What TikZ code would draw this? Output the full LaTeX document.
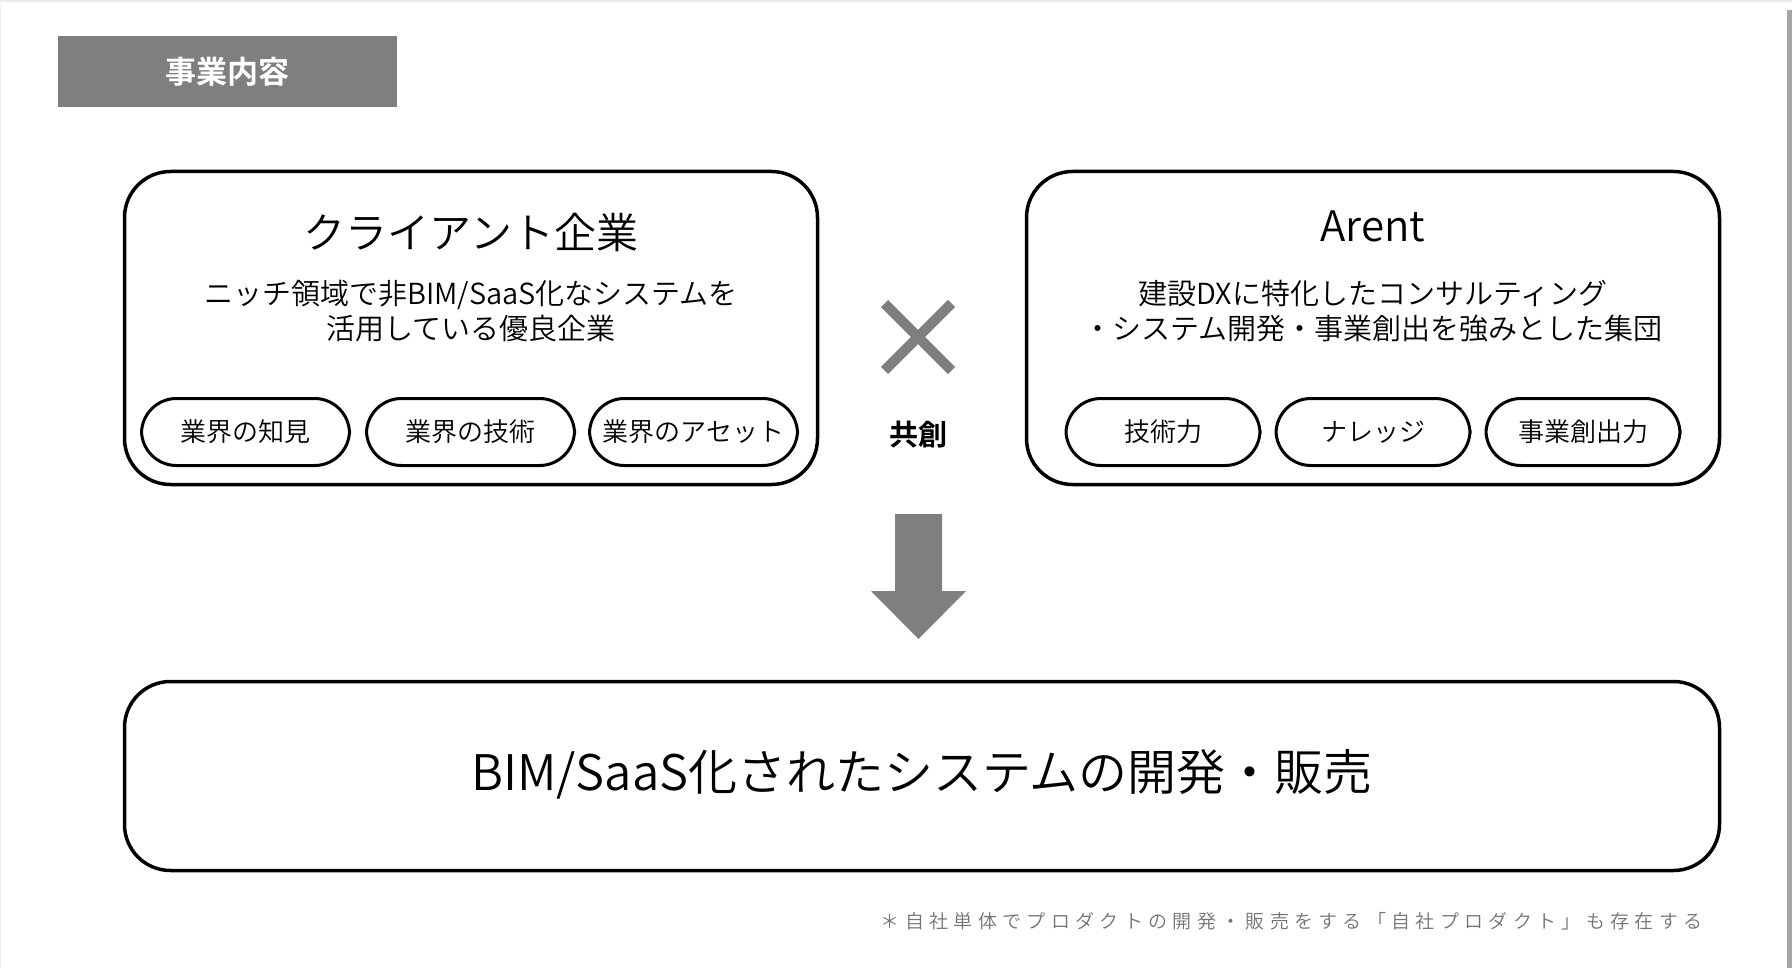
\documentclass[tikz,border=0pt]{standalone}
\usepackage{fontspec}
\setmainfont{Noto Sans CJK JP}[UprightFont={* DemiLight}, BoldFont={* Bold}]
\newfontfamily\notefont{Noto Sans CJK JP}[UprightFont={* DemiLight}, LetterSpace=28]
\usetikzlibrary{positioning}
\definecolor{slidegray}{HTML}{7F7F7F}
\tikzset{
  panel/.style={draw, line width=3.5pt, rounded corners=46pt, minimum width=693pt, minimum height=313pt}, % Define the big box style
  pill/.style={draw, line width=3pt, rounded corners=35pt, minimum width=206pt, minimum height=67pt, inner sep=0pt, font=\fontsize{26}{30}\selectfont},
  heading/.style={font=\fontsize{42}{48}\selectfont},
  blurb/.style={align=center, font=\fontsize{29}{35}\selectfont},
  tag/.style={fill=slidegray, text=white, minimum width=339pt, minimum height=71pt, font=\fontsize{31}{36}\bfseries\selectfont},
  cross/.style={slidegray, line width=10pt},
  label/.style={text centered}
}

\begin{document}
\begin{tikzpicture}[x=1pt, y=-1pt]
    \useasboundingbox (0,0) rectangle (1792,968);

    % Page edges
    \fill[black!8] (0,0) rectangle (1792,2);
    \fill[black!6] (0,0) rectangle (1,968);
    \fill[black!35] (1787,10) rectangle (1792,968);

    % Tag
    \node[tag] (tag) at (227.5,72) {事業内容};

    % Client side
    \node[panel] (client) at (471,328) {};
    \node[heading] (clientname) at (471,232) {クライアント企業};
    \node[blurb] (clientnote) at (471,311) {ニッチ領域で非BIM/SaaS化なシステムを\\活用している優良企業};
    \node[pill, minimum width=208pt] (c2) at (470.5,432) {業界の技術};
    \node[pill, minimum width=208pt] (c1) [left=14pt of c2] {業界の知見};
    \node[pill, minimum width=208pt] (c3) [right=12pt of c2] {業界のアセット};

    % Arent side
    \node[panel] (arent) at (1373,328) {};
    \node[heading] (arentname) at (1373,226) {Arent};
    \node[blurb] (arentnote) at (1373,311) {建設DXに特化したコンサルティング\\・システム開発・事業創出を強みとした集団};
    \node[pill, minimum width=194pt] (a2) at (1373,432) {ナレッジ};
    \node[pill, minimum width=194pt] (a1) [left=13pt of a2] {技術力};
    \node[pill, minimum width=194pt] (a3) [right=13pt of a2] {事業創出力};

    % Cross and co-creation
    \coordinate (mid) at (918,337);
    \draw[cross] ([shift={(-33.5,-33.5)}]mid) -- ([shift={(33.5,33.5)}]mid);
    \draw[cross] ([shift={(-33.5,33.5)}]mid) -- ([shift={(33.5,-33.5)}]mid);
    \node[font=\fontsize{29}{34}\bfseries\selectfont] (cocreate) at (918,435) {共創};

    % Result
    \node[panel, minimum width=1595pt, minimum height=189pt] (result) at (922,776) {};
    \node[font=\fontsize{49}{56}\selectfont] (resulttext) at (922,774) {BIM/SaaS化されたシステムの開発・販売};

    % Down arrow
    \fill[slidegray] (895,514) -- (942,514) -- (942,591) -- (966,591) -- (918.5,639)
      -- (871,591) -- (895,591) -- cycle;

    % Footnote
    \node[text=black!55, font=\notefont\fontsize{19}{22}\selectfont, anchor=east] (note) at (1706,921)
      {＊自社単体でプロダクトの開発・販売をする「自社プロダクト」も存在する};
\end{tikzpicture}
\end{document}
